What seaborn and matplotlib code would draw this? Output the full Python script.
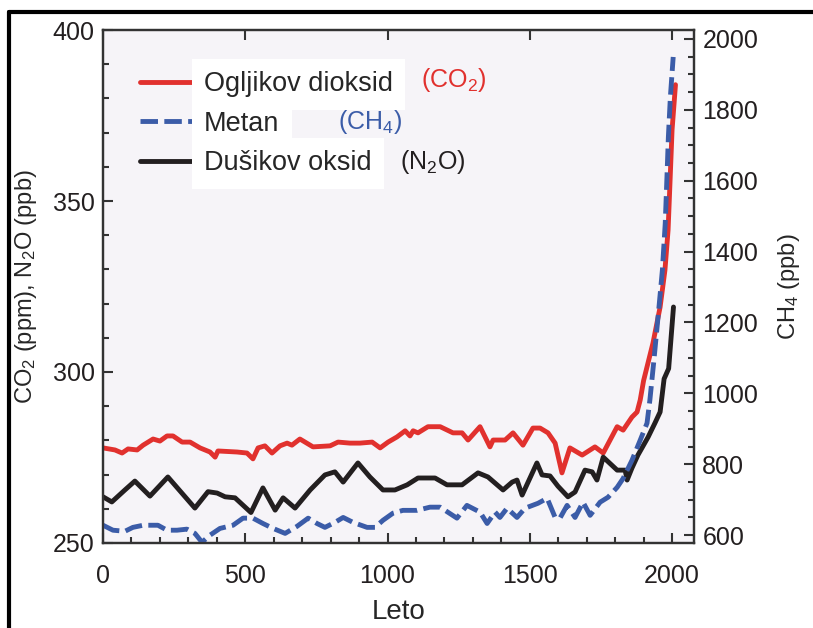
import matplotlib
matplotlib.use('Agg')
import matplotlib.pyplot as plt
import seaborn as sns
from matplotlib.lines import Line2D
from matplotlib.ticker import MultipleLocator

# values
co2_years = [0, 42, 67, 88, 120, 141, 176, 200, 225, 246, 278, 306, 341, 376, 394, 404, 471, 506,
             527, 545, 569, 594, 622, 647, 664, 692, 710, 738, 798, 826, 868, 903, 946, 974, 1002,
             1033, 1062, 1079, 1090, 1107, 1142, 1185, 1230, 1262, 1283, 1325, 1360, 1371, 1413,
             1441, 1476, 1511, 1536, 1564, 1589, 1613, 1641, 1684, 1729, 1758, 1807, 1828, 1859,
             1877, 1888, 1900, 1933, 1958, 1975, 1986, 1993, 2000, 2012]
co2_ppm = [277.8, 277.2, 276.3, 277.5, 277.2, 278.6, 280.4, 279.8, 281.3, 281.3, 279.5, 279.5, 277.8,
           276.6, 275.1, 276.9, 276.6, 276.3, 274.6, 277.8, 278.4, 276.3, 278.4, 279.2, 278.6, 280.4,
           279.5, 278.1, 278.4, 279.5, 279.2, 279.2, 279.5, 277.8, 279.5, 281.0, 282.8, 281.3, 282.8,
           282.2, 284.0, 284.0, 282.2, 282.2, 280.1, 284.0, 278.1, 280.1, 280.1, 282.2, 278.6, 283.6,
           283.6, 282.2, 279.2, 270.5, 277.8, 275.7, 278.1, 276.3, 284.0, 283.0, 286.8, 288.3, 291.8,
           297.5, 308.5, 319.0, 329.8, 341.5, 356.0, 370.8, 384.0]

ch4_years = [0, 35, 77, 105, 141, 193, 225, 260, 295, 323, 348, 376, 411, 457, 492, 527, 562, 598,
             640, 682, 721, 752, 780, 815, 844, 879, 928, 956, 984, 1019, 1054, 1104, 1149, 1185,
             1244, 1279, 1325, 1350, 1378, 1395, 1420, 1455, 1483, 1529, 1561, 1589, 1606, 1631,
             1659, 1687, 1712, 1747, 1775, 1807, 1828, 1859, 1888, 1912, 1922, 1937, 1953, 1966,
             1976, 1982, 1987, 1994, 2004]
ch4_ppb = [628, 614, 611, 622, 628, 628, 614, 614, 617, 605, 580, 600, 619, 628, 648, 648, 633, 619,
           605, 625, 648, 633, 622, 636, 650, 636, 622, 622, 642, 662, 670, 670, 679, 679, 648, 684,
           665, 633, 665, 650, 676, 650, 676, 690, 704, 650, 648, 684, 650, 693, 656, 693, 707, 735,
           760, 811, 868, 916, 981, 1100, 1235, 1348, 1480, 1610, 1723, 1836, 1949]

n2o_years = [0, 31, 77, 112, 165, 228, 323, 369, 401, 429, 464, 520, 562, 605, 633, 675, 728, 780,
             815, 844, 896, 938, 984, 1026, 1069, 1107, 1167, 1209, 1262, 1318, 1353, 1406, 1438,
             1455, 1473, 1525, 1543, 1571, 1599, 1634, 1659, 1694, 1719, 1736, 1758, 1807, 1835,
             1842, 1859, 1880, 1916, 1940, 1958, 1972, 1988, 2005]
n2o_ppb = [263.5, 262.0, 265.5, 268.1, 263.7, 269.3, 260.2, 265.0, 264.6, 263.5, 263.2, 258.9, 266.1,
           259.6, 263.2, 260.2, 265.5, 269.9, 270.8, 267.8, 273.4, 269.3, 265.5, 265.5, 267.0, 269.0,
           269.0, 267.0, 267.0, 270.5, 269.3, 265.5, 267.8, 268.4, 264.0, 273.4, 269.9, 269.6, 266.6,
           263.5, 264.9, 271.3, 270.8, 268.4, 275.1, 271.3, 271.3, 268.4, 271.9, 275.7, 281.0, 285.1,
           288.3, 298.0, 301.0, 319.0]

labels = ['Ogljikov dioksid', 'Metan', 'Dušikov oksid']
formulas = ['(CO$_2$)', '(CH$_4$)', '(N$_2$O)']

red = '#e1312e'
blue = '#3b5ca8'
black = '#231f20'

sns.set_style('ticks')
plt.rcParams['font.family'] = ['Liberation Sans', 'DejaVu Sans']
plt.rcParams['mathtext.default'] = 'regular'

fig = plt.figure(figsize=(8.13, 6.28), dpi=100)
ax = fig.add_axes([0.1267, 0.1354, 0.7269, 0.8168])
ax.set_facecolor('#f6f4f8')
ax2 = ax.twinx()
ax2.patch.set_visible(False)

sns.lineplot(x=co2_years, y=co2_ppm, ax=ax, color=red, lw=3.5)
sns.lineplot(x=n2o_years, y=n2o_ppb, ax=ax, color=black, lw=3.5)
sns.lineplot(x=ch4_years, y=ch4_ppb, ax=ax2, color=blue, lw=3.5, linestyle=(0, (3.6, 1.3)))

ax.set_xlim(0, 2077)
ax.set_ylim(250, 400)
ax2.set_ylim(578, 2025)

ax.xaxis.set_major_locator(MultipleLocator(500))
ax.xaxis.set_minor_locator(MultipleLocator(100))
ax.yaxis.set_major_locator(MultipleLocator(50))
ax.yaxis.set_minor_locator(MultipleLocator(10))
ax2.yaxis.set_major_locator(MultipleLocator(200))
ax2.yaxis.set_minor_locator(MultipleLocator(50))

for a in (ax, ax2):
    a.tick_params(which='both', direction='in', width=1.5, color='#333333', labelsize=18,
                  labelcolor='#231f20')
    a.tick_params(which='major', length=7, pad=6)
    a.tick_params(which='minor', length=4)
    for s in a.spines.values():
        s.set_linewidth(1.6)
        s.set_color('#333333')
ax.tick_params(axis='x', top=True)
ax.tick_params(axis='x', which='major', pad=15)

ax.set_xlabel('Leto', fontsize=20, labelpad=8)
ax.set_ylabel('CO$_2$ (ppm), N$_2$O (ppb)', fontsize=17, labelpad=10)
ax2.set_ylabel('CH$_4$ (ppb)', fontsize=17, labelpad=13)

handles = [ax.get_lines()[0], ax2.get_lines()[0], ax.get_lines()[1]]
leg = ax2.legend(handles, labels, loc='upper left', bbox_to_anchor=(0.022, 0.967), frameon=False,
                 fontsize=19.5, handlelength=2.0, handletextpad=0.35, labelspacing=0.5)
for t in leg.get_texts():
    t.set_bbox(dict(boxstyle='square,pad=0.45', facecolor='white', edgecolor='none'))

for txt, col, xy in zip(formulas, [red, blue, black], [(0.538, 0.9025), (0.398, 0.8207), (0.5025, 0.743)]):
    ax2.text(xy[0], xy[1], txt, transform=ax2.transAxes, color=col, fontsize=18,
             ha='left', va='center')

# black frame lines at the top and left of the picture
fig.add_artist(Line2D([0.011, 0.011], [0, 0.981], transform=fig.transFigure, color='black', lw=3))
fig.add_artist(Line2D([0.011, 1], [0.981, 0.981], transform=fig.transFigure, color='black', lw=3))

fig.savefig('out.png', dpi=100)
